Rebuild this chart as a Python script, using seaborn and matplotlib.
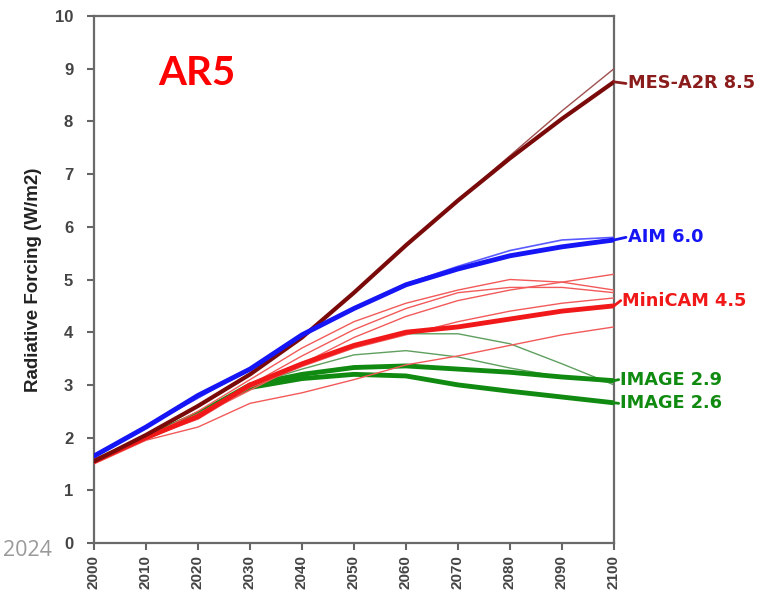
import matplotlib
matplotlib.use("Agg")
import matplotlib.pyplot as plt
import seaborn as sns
import pandas as pd

years = [2000, 2010, 2020, 2030, 2040, 2050, 2060, 2070, 2080, 2090, 2100]

# thick scenario lines
mes_a2r_85 = [1.55, 2.05, 2.6, 3.2, 3.9, 4.75, 5.65, 6.5, 7.3, 8.05, 8.75]
aim_60 = [1.65, 2.2, 2.8, 3.3, 3.95, 4.45, 4.9, 5.2, 5.45, 5.62, 5.75]
minicam_45 = [1.55, 2.0, 2.4, 3.0, 3.4, 3.75, 4.0, 4.1, 4.25, 4.4, 4.5]
image_29 = [1.55, 2.0, 2.45, 3.0, 3.2, 3.33, 3.36, 3.3, 3.24, 3.15, 3.08]
image_26 = [1.55, 2.0, 2.45, 2.95, 3.12, 3.2, 3.17, 3.0, 2.88, 2.77, 2.66]

# thin companion lines
mes_thin = [1.55, 2.05, 2.6, 3.2, 3.9, 4.75, 5.65, 6.5, 7.35, 8.2, 9.0]
aim_thin = [1.65, 2.2, 2.75, 3.3, 3.95, 4.45, 4.92, 5.25, 5.55, 5.75, 5.8]
red_thin = [
    [1.55, 2.0, 2.5, 3.1, 3.7, 4.2, 4.55, 4.8, 5.0, 4.95, 4.8],
    [1.55, 2.0, 2.45, 3.0, 3.55, 4.05, 4.45, 4.75, 4.85, 4.85, 4.75],
    [1.55, 2.0, 2.4, 2.9, 3.4, 3.9, 4.3, 4.6, 4.8, 4.95, 5.1],
    [1.55, 2.0, 2.35, 2.95, 3.35, 3.7, 3.95, 4.2, 4.4, 4.55, 4.65],
    [1.5, 1.95, 2.2, 2.65, 2.85, 3.1, 3.38, 3.55, 3.75, 3.95, 4.1],
]
green_thin = [
    [1.55, 2.0, 2.45, 3.0, 3.4, 3.75, 3.97, 3.97, 3.78, 3.4, 3.0],
    [1.55, 2.0, 2.45, 3.0, 3.3, 3.57, 3.65, 3.53, 3.32, 3.15, 3.04],
]

labels = ["MES-A2R 8.5", "AIM 6.0", "MiniCAM 4.5", "IMAGE 2.9", "IMAGE 2.6"]
y_ticks = list(range(0, 11))

sns.set_theme(style="white")
plt.rcParams["font.family"] = ["Liberation Sans", "DejaVu Sans"]

fig = plt.figure(figsize=(7.71, 5.91), dpi=100)
ax = fig.add_axes([94 / 771, 1 - 543 / 591, (614 - 94) / 771, (543 - 16) / 591])

C_MES = "#7a0a0a"
C_AIM = "#1515f5"
C_RED = "#f01818"
C_GRN = "#108a10"

def draw(vals, color, lw, z, alpha=1.0):
    sns.lineplot(x=years, y=vals, ax=ax, color=color, lw=lw, zorder=z, alpha=alpha)

for g in green_thin:
    draw(g, "#5f9f5f", 1.0, 2)
draw(image_26, C_GRN, 3.5, 3)
draw(image_29, C_GRN, 3.5, 3)
for r in red_thin:
    draw(r, "#f25a5a", 1.0, 4)
draw(minicam_45, C_RED, 3.5, 5)
draw(mes_thin, "#a05050", 1.0, 5)
draw(mes_a2r_85, C_MES, 3.0, 6)
draw(aim_thin, "#5a5aff", 1.2, 6)
draw(aim_60, C_AIM, 3.5, 7)

ax.set_xlim(2000, 2100)
ax.set_ylim(0, 10)
ax.set_xticks(years)
ax.set_xticklabels([str(y) for y in years], rotation=90, fontsize=11, fontweight="bold", color="#444444")
ax.set_yticks(y_ticks)
ax.set_yticklabels([str(v) for v in y_ticks], fontsize=12, fontweight="bold", color="#444444")
ax.tick_params(axis="both", direction="out", length=5, width=1.5, color="#666666", bottom=True, left=True)
ax.tick_params(axis="y", pad=10)
for s in ax.spines.values():
    s.set_color("#6a6a6a")
    s.set_linewidth(1.6)
    s.set_visible(True)

ax.set_ylabel("Radiative Forcing (W/m2)", fontsize=13.5, fontweight="bold", color="#222222",
              family=["Liberation Sans Narrow", "Liberation Sans", "DejaVu Sans"], labelpad=9)

# right-side labels
label_vals = [8.75, 5.75, 4.5, 3.08, 2.66]
label_y = [8.72, 5.8, 4.6, 3.1, 2.65]
label_cols = ["#8b1c1c", C_AIM, C_RED, C_GRN, C_GRN]
label_x = [2102.6, 2102.6, 2101.6, 2101.2, 2101.2]
for lab, v, yy, c, xx in zip(labels, label_vals, label_y, label_cols, label_x):
    ax.plot([2100, xx - 0.3], [v, yy], color=c, lw=2, clip_on=False, zorder=8)
    ax.text(xx, yy, lab, color=c, fontsize=12.8, fontweight="bold", va="center", ha="left",
            clip_on=False, family=["DejaVu Sans"])

ax.text(2012.3, 8.9, "AR5", color="#ff0000", fontsize=29, fontweight="bold",
        family=["Lato", "DejaVu Sans"], va="center", ha="left")

fig.text(52 / 771, 1 - 551 / 591, "2024", color="#999999", fontsize=15.5,
         family=["Open Sans", "DejaVu Sans"], ha="right", va="center")

fig.savefig("out.png", dpi=100)
